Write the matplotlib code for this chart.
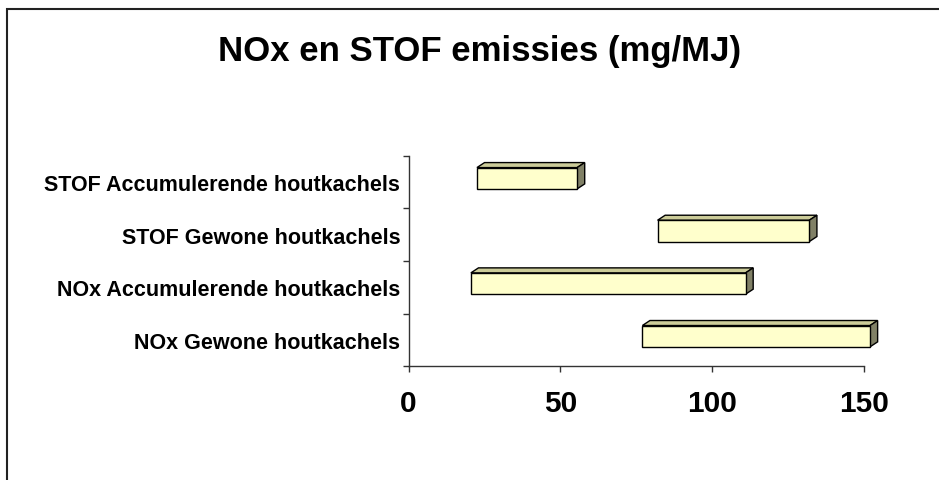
import numpy as np
import matplotlib.pyplot as plt
from matplotlib.patches import Polygon, Rectangle

# categories from bottom to top, range of emission (mg/MJ)
categories = ["NOx Gewone houtkachels", "NOx Accumulerende houtkachels",
              "STOF Gewone houtkachels", "STOF Accumulerende houtkachels"]
low = [77, 20.5, 82, 22.5]
high = [152, 111, 132, 55.5]
xticks = [0, 50, 100, 150]
title = "NOx en STOF emissies (mg/MJ)"

plt.rcParams['font.family'] = ['Liberation Sans', 'DejaVu Sans']
plt.rcParams['font.weight'] = 'bold'


def draw_box(ax, yc, lo, hi, h, dx, dy):
    """Front face via barh, top and side faces as polygons (fake 3D)."""
    top = yc + h / 2
    bot = yc - h / 2
    ax.add_patch(Polygon([(lo, top), (hi, top), (hi + dx, top + dy), (lo + dx, top + dy)],
                         closed=True, fc='#CCCC99', ec='black', lw=1, clip_on=False, zorder=3))
    ax.add_patch(Polygon([(hi, bot), (hi, top), (hi + dx, top + dy), (hi + dx, bot + dy)],
                         closed=True, fc='#808066', ec='black', lw=1, clip_on=False, zorder=3))


def main():
    fig = plt.figure(figsize=(9.39, 4.81), dpi=100)
    ax = fig.add_axes([0.4352, 0.2364, 0.4849, 0.4378])

    y = np.arange(len(categories)) + 0.072
    h = 0.405
    widths = np.array(high) - np.array(low)
    ax.barh(y, widths, left=low, height=h, color='#FFFFCC', edgecolor='black',
            linewidth=1, clip_on=False, zorder=4)
    for yi, lo, hi in zip(y, low, high):
        draw_box(ax, yi, lo, hi, h, 2.5, 0.095)

    ax.set_xlim(0, 150)
    ax.set_ylim(-0.5, 3.5)
    ax.set_xticks(xticks)
    ax.set_yticks(np.arange(-0.5, 4, 1))
    ax.set_yticklabels([])
    ax.set_yticks(np.arange(len(categories)), minor=True)
    ax.set_yticklabels(categories, minor=True, fontsize=15.5, fontweight='bold')
    ax.tick_params(axis='y', which='minor', length=0, pad=6)
    ax.tick_params(axis='y', which='major', length=4, width=1, color='#333333')
    ax.tick_params(axis='x', length=4, width=1, color='#333333', labelsize=21.5, pad=12)
    for s in ['top', 'right']:
        ax.spines[s].set_visible(False)
    for s in ['left', 'bottom']:
        ax.spines[s].set_color('#333333')
        ax.spines[s].set_linewidth(1)

    # chart frame, open to the right and bottom
    fig.add_artist(Rectangle((7 / 939, -0.1), 1.2, 1 - 10 / 481 + 0.1, transform=fig.transFigure,
                             fill=False, ec='#222222', lw=1.5))
    fig.text(480 / 939, 1 - 52 / 481, title, ha='center', va='center',
             fontsize=25, fontweight='bold')

    fig.savefig('out.png', dpi=100)


if __name__ == "__main__":
    main()
